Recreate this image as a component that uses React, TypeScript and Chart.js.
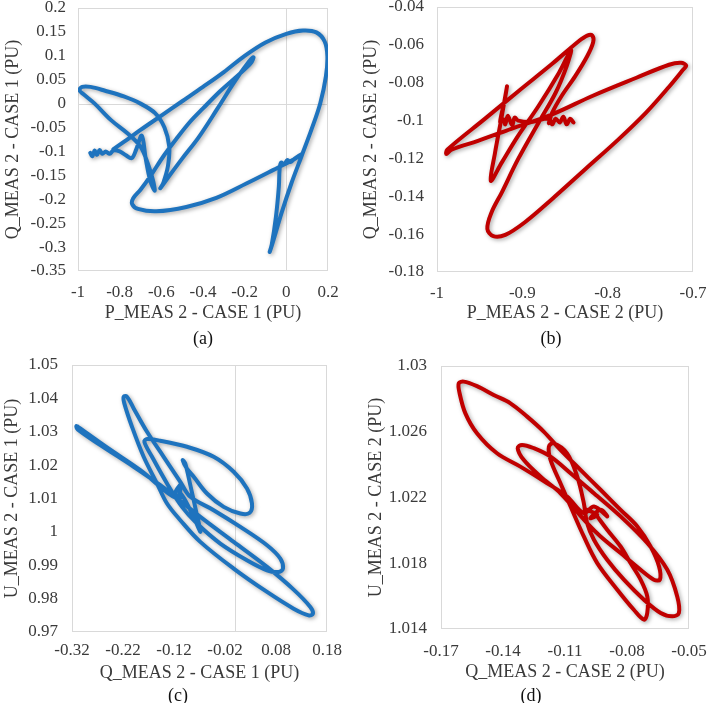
import React, { useEffect, useRef } from "react";
import { Chart, registerables } from "chart.js";
Chart.register(...registerables);

// ---------------- DATA ----------------
// (a) P_MEAS 2 vs Q_MEAS 2, case 1
const A_P = [-0.941,-0.931,-0.92,-0.909,-0.896,-0.883,-0.867,-0.848,-0.83,
  -0.8,-0.77,-0.742,-0.72,-0.694,-0.675,-0.654,-0.632,
  -0.64,-0.665,-0.7,-0.76,-0.84,-0.92,-0.975,-0.993,-0.98,-0.94,-0.87,-0.78,-0.7,-0.63,-0.585,-0.562,-0.568,-0.59,-0.605,
  -0.56,-0.5,-0.42,-0.33,-0.25,-0.19,-0.158,
  -0.17,-0.23,-0.318,-0.4,-0.462,-0.53,-0.59,-0.65,-0.7,-0.735,
  -0.74,-0.712,-0.624,-0.48,-0.336,-0.192,-0.064,0.03,0.072,
  0.04,0.02,0.005,-0.01,-0.025,-0.032,
  -0.036,-0.05,-0.07,-0.08,-0.065,-0.024,0.024,0.072,0.12,0.163,0.19,0.197,0.184,0.144,0.08,
  0,-0.1,-0.2,-0.3,-0.4,-0.5,-0.6,-0.7,-0.78,-0.83];
const A_Q = [-0.103,-0.11,-0.098,-0.107,-0.097,-0.105,-0.1,-0.105,-0.098,
  -0.1,-0.108,-0.114,-0.095,-0.067,-0.115,-0.16,-0.182,
  -0.16,-0.125,-0.09,-0.063,-0.035,0,0.02,0.028,0.035,0.035,0.027,0.015,0,-0.02,-0.05,-0.09,-0.13,-0.165,-0.177,
  -0.15,-0.115,-0.07,-0.01,0.045,0.082,0.097,
  0.085,0.06,0.026,-0.01,-0.038,-0.075,-0.11,-0.15,-0.18,-0.198,
  -0.21,-0.22,-0.225,-0.216,-0.197,-0.167,-0.139,-0.118,-0.106,
  -0.115,-0.122,-0.118,-0.127,-0.123,-0.135,
  -0.174,-0.237,-0.295,-0.31,-0.29,-0.23,-0.167,-0.111,-0.055,0.001,0.057,0.099,0.13,0.149,0.153,
  0.146,0.128,0.1,0.066,0.035,0.005,-0.025,-0.055,-0.08,-0.095];

// (b) P_MEAS 2 vs Q_MEAS 2, case 2
const B_P = [-0.84,-0.844,-0.848,-0.852,-0.856,-0.861,-0.865,-0.869,-0.889,-0.905,-0.909,-0.912,-0.917,-0.92,-0.922,-0.926,
  -0.921,-0.918,-0.925,-0.932,-0.937,
  -0.924,-0.905,-0.881,-0.857,-0.843,-0.848,-0.861,-0.881,-0.905,-0.924,-0.936,-0.941,-0.934,-0.92,-0.897,-0.865,-0.826,-0.787,-0.755,-0.728,-0.712,-0.708,-0.714,-0.728,-0.767,-0.818,-0.865,-0.913,-0.952,-0.983,-0.989,-0.988,-0.944,-0.905,-0.865,-0.834,-0.824,-0.818,-0.817,-0.824,-0.838,-0.854,-0.865,-0.869];
const B_Q = [-0.101,-0.099,-0.102,-0.098,-0.101,-0.099,-0.102,-0.099,-0.1007,-0.1,-0.0984,-0.1025,-0.0975,-0.102,-0.0993,-0.1007,
  -0.09,-0.082,-0.1,-0.117,-0.1318,
  -0.1221,-0.1081,-0.0923,-0.0747,-0.0628,-0.0712,-0.0853,-0.1011,-0.1204,-0.1379,-0.1484,-0.1572,-0.1611,-0.1604,-0.1537,-0.1414,-0.1256,-0.1098,-0.0958,-0.0821,-0.0733,-0.0709,-0.0695,-0.0705,-0.0775,-0.087,-0.0967,-0.1044,-0.1107,-0.1154,-0.1177,-0.1154,-0.0991,-0.0846,-0.07,-0.0581,-0.0551,-0.0551,-0.0586,-0.066,-0.0765,-0.087,-0.0958,-0.1014];

// (c) Q_MEAS 2 vs U_MEAS 2, case 1
const C_Q = [-0.1108,-0.1043,-0.1174,-0.1076,-0.1141,-0.186,-0.2514,-0.3069,-0.3115,-0.3089,-0.2644,-0.1991,-0.1468,-0.1174,-0.0684,-0.003,0.0624,0.1146,0.1473,0.1525,0.1441,0.1146,0.0624,-0.003,-0.0684,-0.1076,-0.1337,-0.1533,-0.1795,-0.2024,-0.2174,-0.2187,-0.2122,-0.1991,-0.1729,-0.1403,-0.1076,-0.088,-0.0422,0.0101,0.0624,0.0885,0.0937,0.0852,0.0624,0.0231,-0.0292,-0.0749,-0.1043,-0.1337,-0.1631,-0.1782,-0.1729,-0.1468,-0.0945,-0.0422,-0.003,0.0231,0.0329,0.0284,0.0101,-0.0226,-0.0553,-0.0814,
  -0.095,-0.103,-0.098,-0.088,-0.075,-0.068,-0.08,-0.1,-0.112];
const C_U = [1.0125,1.0105,1.0115,1.014,1.01,1.0185,1.0253,1.0313,1.0317,1.0307,1.026,1.0195,1.014,1.0105,1.0045,0.997,0.9895,0.9827,0.9775,0.9755,0.975,0.977,0.982,0.989,0.997,1.0035,1.0085,1.0145,1.0225,1.0315,1.0385,1.0405,1.0405,1.037,1.03,1.0225,1.015,1.0105,1.0065,1.0015,0.996,0.992,0.989,0.988,0.9885,0.9915,0.9965,1.0025,1.0075,1.0145,1.0225,1.027,1.0278,1.0273,1.0255,1.0225,1.018,1.013,1.0085,1.0057,1.0055,1.0075,1.0115,1.0165,
  1.019,1.0215,1.0205,1.014,1.005,1.0,1.004,1.01,1.0125];

// (d) Q_MEAS 2 vs U_MEAS 2, case 2
const D_Q = [-0.0993,-0.0944,-0.0977,-0.0928,-0.0896,-0.096,-0.1009,-0.109,-0.1186,-0.1316,-0.1429,-0.1526,-0.1582,-0.161,-0.1614,-0.159,-0.1526,-0.1445,-0.1364,-0.1283,-0.1203,-0.1122,-0.1025,-0.0928,-0.0831,-0.075,-0.0686,-0.0645,-0.0641,-0.067,-0.0734,-0.0831,-0.0928,-0.0993,-0.1122,-0.1219,-0.13,-0.1329,-0.1308,-0.1251,-0.117,-0.1073,-0.096,-0.0831,-0.0702,-0.0605,-0.0557,-0.0549,-0.0581,-0.0637,-0.0718,-0.0815,-0.0896,-0.096,-0.0993,-0.1009,-0.1041,-0.109,-0.1154,-0.1178,-0.117,-0.1122,-0.1073,-0.1009,-0.0944,-0.0847,-0.0767,-0.0718,-0.0702,-0.0702,-0.0734,-0.0783,-0.0831,-0.0896,-0.0944];
const D_U = [1.02125,1.02095,1.02074,1.02125,1.02085,1.02145,1.02105,1.02206,1.02287,1.02388,1.02469,1.02591,1.02712,1.02834,1.02895,1.02905,1.02878,1.02824,1.02773,1.02692,1.02601,1.0249,1.02368,1.02247,1.02125,1.02024,1.01902,1.01781,1.017,1.017,1.0176,1.01862,1.01963,1.02044,1.02226,1.02328,1.02429,1.025,1.0252,1.025,1.02449,1.02348,1.02226,1.02085,1.01923,1.0176,1.01598,1.01497,1.01477,1.01497,1.01578,1.017,1.01821,1.01943,1.02044,1.02166,1.02328,1.02469,1.0253,1.0251,1.02429,1.02287,1.02145,1.01963,1.01801,1.01639,1.01517,1.01457,1.01497,1.01598,1.017,1.01801,1.01902,1.02004,1.02085];

// ticks
const A_X_TICKS = [-1, -0.8, -0.6, -0.4, -0.2, 0, 0.2];
const A_Y_TICKS = [0.2, 0.15, 0.1, 0.05, 0, -0.05, -0.1, -0.15, -0.2, -0.25, -0.3, -0.35];
const B_X_TICKS = [-1, -0.9, -0.8, -0.7];
const B_Y_TICKS = [-0.04, -0.06, -0.08, -0.1, -0.12, -0.14, -0.16, -0.18];
const C_X_TICKS = [-0.32, -0.22, -0.12, -0.02, 0.08, 0.18];
const C_Y_TICKS = [1.05, 1.04, 1.03, 1.02, 1.01, 1, 0.99, 0.98, 0.97];
const D_X_TICKS = [-0.17, -0.14, -0.11, -0.08, -0.05];
const D_Y_TICKS = [1.03, 1.026, 1.022, 1.018, 1.014];

const X_TITLES = ["P_MEAS 2 - CASE 1 (PU)", "P_MEAS 2 - CASE 2 (PU)", "Q_MEAS 2 - CASE 1 (PU)", "Q_MEAS 2 - CASE 2 (PU)"];
const Y_TITLES = ["Q_MEAS 2 - CASE 1 (PU)", "Q_MEAS 2 - CASE 2 (PU)", "U_MEAS 2 - CASE 1 (PU)", "U_MEAS 2 - CASE 2 (PU)"];
const CAPTIONS = ["(a)", "(b)", "(c)", "(d)"];

// ---------------- STYLE / LAYOUT ----------------
const BLUE = "#1e73be";
const RED = "#c00000";
const FONT = "'Liberation Serif', 'Times New Roman', serif";
const TEXT = "#3a3a3a";

type Panel = {
  xs: number[]; ys: number[]; xt: number[]; yt: number[]; color: string;
  xTitle: string; yTitle: string; caption: string;
  left: number; top: number; w: number; h: number;
  area: { left: number; top: number; right: number; bottom: number };
  xTickPad: number; yTickPad: number; xTitlePad: number; yTitlePad: number;
  cap: { x: number; y: number };
};

const PANELS: Panel[] = [
  { xs: A_P, ys: A_Q, xt: A_X_TICKS, yt: A_Y_TICKS, color: BLUE, xTitle: X_TITLES[0], yTitle: Y_TITLES[0], caption: CAPTIONS[0],
    left: 0, top: 0, w: 354, h: 350, area: { left: 78, top: 8, right: 328, bottom: 271 },
    xTickPad: 11, yTickPad: 12, xTitlePad: 26, yTitlePad: 2, cap: { x: 203, y: 338 } },
  { xs: B_P, ys: B_Q, xt: B_X_TICKS, yt: B_Y_TICKS, color: RED, xTitle: X_TITLES[1], yTitle: Y_TITLES[1], caption: CAPTIONS[1],
    left: 354, top: 0, w: 354, h: 350, area: { left: 83, top: 7, right: 339, bottom: 272 },
    xTickPad: 11, yTickPad: 13, xTitlePad: 26, yTitlePad: 6, cap: { x: 551, y: 338 } },
  { xs: C_Q, ys: C_U, xt: C_X_TICKS, yt: C_Y_TICKS, color: BLUE, xTitle: X_TITLES[2], yTitle: Y_TITLES[2], caption: CAPTIONS[2],
    left: 0, top: 350, w: 354, h: 353, area: { left: 72, top: 15, right: 327, bottom: 282 },
    xTickPad: 8, yTickPad: 14, xTitlePad: 19, yTitlePad: 1, cap: { x: 178, y: 695 } },
  { xs: D_Q, ys: D_U, xt: D_X_TICKS, yt: D_Y_TICKS, color: RED, xTitle: X_TITLES[3], yTitle: Y_TITLES[3], caption: CAPTIONS[3],
    left: 354, top: 350, w: 354, h: 353, area: { left: 87, top: 16, right: 335, bottom: 279 },
    xTickPad: 12, yTickPad: 14, xTitlePad: 20, yTitlePad: 11, cap: { x: 531, y: 695 } },
];

const fmt = (v: number | string) => String(Math.round(Number(v) * 10000) / 10000);

const framePlugin = {
  id: "frame",
  beforeDatasetsDraw(chart: any) {
    const { ctx, chartArea: a, scales } = chart;
    ctx.save();
    ctx.strokeStyle = "#d9d9d9";
    ctx.lineWidth = 1;
    ctx.strokeRect(Math.round(a.left) + 0.5, Math.round(a.top) + 0.5, Math.round(a.width) - 1, Math.round(a.height) - 1);
    const xs = scales.x, ys = scales.y;
    if (xs.min < 0 && xs.max > 0) {
      const px = Math.round(xs.getPixelForValue(0)) + 0.5;
      ctx.beginPath(); ctx.moveTo(px, a.top); ctx.lineTo(px, a.bottom); ctx.stroke();
    }
    if (ys.min < 0 && ys.max > 0) {
      const py = Math.round(ys.getPixelForValue(0)) + 0.5;
      ctx.beginPath(); ctx.moveTo(a.left, py); ctx.lineTo(a.right, py); ctx.stroke();
    }
    ctx.restore();
  },
};

const shadowPlugin = {
  id: "softShadow",
  beforeDatasetsDraw(chart: any) {
    const ctx = chart.ctx;
    ctx.save();
    ctx.shadowColor = "rgba(0,0,0,0.35)";
    ctx.shadowBlur = 4;
    ctx.shadowOffsetX = 1.5;
    ctx.shadowOffsetY = 1.5;
  },
  afterDatasetsDraw(chart: any) {
    chart.ctx.restore();
  },
};

function makeConfig(p: Panel): any {
  const points = p.xs.map((x, i) => ({ x, y: p.ys[i] }));
  return {
    type: "scatter",
    data: {
      datasets: [{
        data: points, showLine: true, borderColor: p.color, backgroundColor: p.color,
        borderWidth: 4, pointRadius: 0, pointHoverRadius: 0, tension: 0.35,
        borderJoinStyle: "round", borderCapStyle: "round", fill: false,
      }],
    },
    options: {
      animation: false, responsive: false, maintainAspectRatio: false,
      events: [],
      layout: { padding: { left: 0, top: p.area.top, right: p.w - p.area.right, bottom: 0 } },
      plugins: { legend: { display: false }, tooltip: { enabled: false }, title: { display: false } },
      scales: {
        x: {
          type: "linear", position: "bottom", min: p.xt[0], max: p.xt[p.xt.length - 1],
          grid: { display: false, drawTicks: false }, border: { display: false },
          ticks: { padding: p.xTickPad, font: { family: FONT, size: 17 }, color: TEXT, callback: fmt, maxRotation: 0, minRotation: 0, autoSkip: false },
          afterBuildTicks: (ax: any) => { ax.ticks = p.xt.map((v) => ({ value: v })); },
          afterFit: (ax: any) => { ax.height = p.h - p.area.bottom; ax.paddingLeft = 0; ax.paddingRight = 0; },
          title: { display: true, text: p.xTitle, font: { family: FONT, size: 18 }, color: TEXT, padding: { top: 0, bottom: p.xTitlePad } },
        },
        y: {
          type: "linear", position: "left", min: p.yt[p.yt.length - 1], max: p.yt[0],
          grid: { display: false, drawTicks: false }, border: { display: false },
          ticks: { padding: p.yTickPad, font: { family: FONT, size: 17 }, color: TEXT, callback: fmt, autoSkip: false },
          afterBuildTicks: (ax: any) => { ax.ticks = p.yt.slice().reverse().map((v) => ({ value: v })); },
          afterFit: (ax: any) => { ax.width = p.area.left; ax.paddingTop = 0; ax.paddingBottom = 0; },
          title: { display: true, text: p.yTitle, font: { family: FONT, size: 18 }, color: TEXT, padding: { top: p.yTitlePad, bottom: 0 } },
        },
      },
    },
    plugins: [framePlugin, shadowPlugin],
  };
}

function PanelChart({ p }: { p: Panel }) {
  const ref = useRef<HTMLCanvasElement>(null);
  useEffect(() => {
    if (!ref.current) return;
    const chart = new Chart(ref.current, makeConfig(p));
    return () => chart.destroy();
  }, [p]);
  return (
    <canvas ref={ref} width={p.w} height={p.h}
      style={{ position: "absolute", left: p.left, top: p.top, width: p.w, height: p.h }} />
  );
}

export default function App() {
  return (
    <div style={{ position: "fixed", left: 0, top: 0, width: 708, height: 703, background: "#fff", overflow: "hidden" }}>
      {PANELS.map((p, i) => <PanelChart key={i} p={p} />)}
      {PANELS.map((p, i) => (
        <div key={"c" + i} style={{ position: "absolute", left: p.cap.x, top: p.cap.y, transform: "translate(-50%, -50%)",
          font: `18px ${FONT}`, color: "#111", lineHeight: 1, whiteSpace: "nowrap" }}>{p.caption}</div>
      ))}
    </div>
  );
}
